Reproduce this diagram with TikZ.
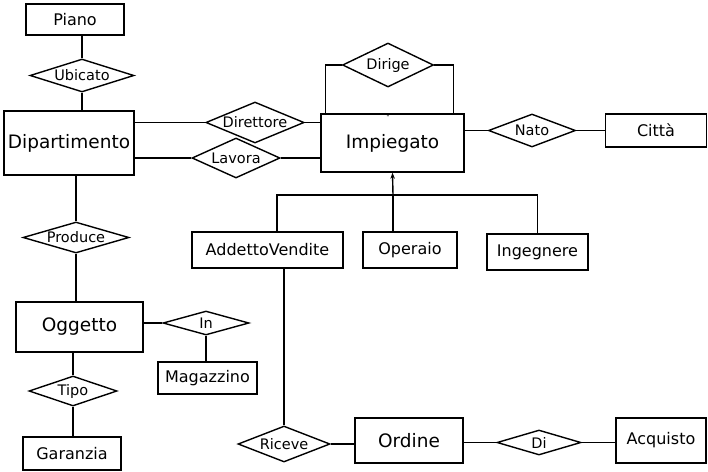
\documentclass[tikz,border=0pt]{standalone}
\usepackage{fontspec}
\setmainfont{DejaVu Sans}
\usetikzlibrary{arrows.meta,shapes.geometric}

\begin{document}
\begin{tikzpicture}[x=1pt, y=-1pt,
  entity/.style 2 args={draw, line width=1.4pt, inner sep=0pt,
                        minimum width=#1pt, minimum height=#2pt,
                        font=\fontsize{16}{18}\selectfont},
  bigentity/.style 2 args={entity={#1}{#2}, font=\fontsize{18.5}{20}\selectfont},
  relation/.style 2 args={draw, diamond, aspect=3, line width=1.4pt, inner sep=0pt,
                          minimum width=#1pt, minimum height=#2pt,
                          font=\fontsize{14.5}{16}\selectfont},
  link/.style={line width=1.4pt},
  isa/.style={line width=1.4pt, -{Stealth[length=6pt, width=4.5pt]}}
]
\useasboundingbox (0,0) rectangle (708,471);

%% Dipartimento and its neighbours
\node[entity={98}{31}]        (piano)   at (75,19.5)  {Piano};
\node[relation={104}{33}]     (ubicato) at (82,75.5)  {Ubicato};
\node[bigentity={130}{64}]    (dip)     at (69,143)   {Dipartimento};
\node[relation={106}{31}]     (produce) at (76,237.5) {Produce};

%% Oggetto
\node[bigentity={127}{50}]    (oggetto) at (79.5,327) {Oggetto};
\node[relation={86}{24}]      (in)      at (206,323)  {In};
\node[entity={99}{32}]        (mag)     at (207.5,378) {Magazzino};
\node[relation={88}{30}]      (tipo)    at (73,391)   {Tipo};
\node[entity={98}{33}]        (garanzia) at (72,453.5) {Garanzia};

%% Impiegato
\node[bigentity={143}{58}]    (imp)     at (392.5,143) {Impiegato};
\node[font=\fontsize{8}{8}\selectfont] (tick) at (388,117) {-};
\node[relation={96}{41}]      (direttore) at (255,122.5) {Direttore};
\node[relation={88}{40}]      (lavora)  at (236,158)  {Lavora};
\node[relation={91}{44}]      (dirige)  at (388,65)   {Dirige};
\node[relation={87}{33}]      (nato)    at (532,130.5) {Nato};
\node[entity={101}{33}]       (citta)   at (656,130.5) {Città};

%% Subclasses of Impiegato
\foreach \n/\x/\y/\w/\t in {av/267.5/250/151/AddettoVendite,
                            operaio/410/250/94/Operaio,
                            ing/537.5/252/101/Ingegnere}{
  \node[entity={\w}{36}] (\n) at (\x,\y) {\t};
}

%% Ordine chain
\node[relation={92}{36}]      (riceve)  at (284,444)  {Riceve};
\node[bigentity={108}{45}]    (ordine)  at (409,440.5) {Ordine};
\node[relation={84}{25}]      (di)      at (539,442.5) {Di};
\node[entity={90}{45}]        (acquisto) at (661,440.5) {Acquisto};

%% Links
\draw[link] (ubicato.north) -- (ubicato.north |- piano.south);
\draw[link] (ubicato.south) -- (ubicato.south |- dip.north);
\draw[link] (produce.north) -- (produce.north |- dip.south);
\draw[link] (produce.south) -- (produce.south |- oggetto.north);
\draw[link] (in.west) -- (in.west -| oggetto.east);
\draw[link] (in.south) -- (in.south |- mag.north);
\draw[link] (tipo.north) -- (tipo.north |- oggetto.south);
\draw[link] (tipo.south) -- (tipo.south |- garanzia.north);

\draw[link] (direttore.west) -- (direttore.west -| dip.east);
\draw[link] (direttore.east) -- (direttore.east -| imp.west);
\draw[link] (lavora.west) -- (lavora.west -| dip.east);
\draw[link] (lavora.east) -- (lavora.east -| imp.west);
\draw[link] (dirige.west) -| ([xshift=5pt]imp.north west);
\draw[link] (dirige.east) -| ([xshift=-11pt]imp.north east);
\draw[link] (nato.west) -- (nato.west -| imp.east);
\draw[link] (nato.east) -- (citta.west);

%% Generalisation
\coordinate (isaj) at (393,195);
\draw[isa] (isaj) -- (imp.south);
\draw[link] ([xshift=9.5pt]av.north) |- (ing.north |- isaj) -- (ing.north);
\draw[link] (isaj) -- (isaj |- operaio.north);

\draw[link] (riceve.north) -- (riceve.north |- av.south);
\draw[link] (riceve.east) -- (riceve.east -| ordine.west);
\draw[link] (di.west) -- (di.west -| ordine.east);
\draw[link] (di.east) -- (di.east -| acquisto.west);

\end{tikzpicture}
\end{document}
